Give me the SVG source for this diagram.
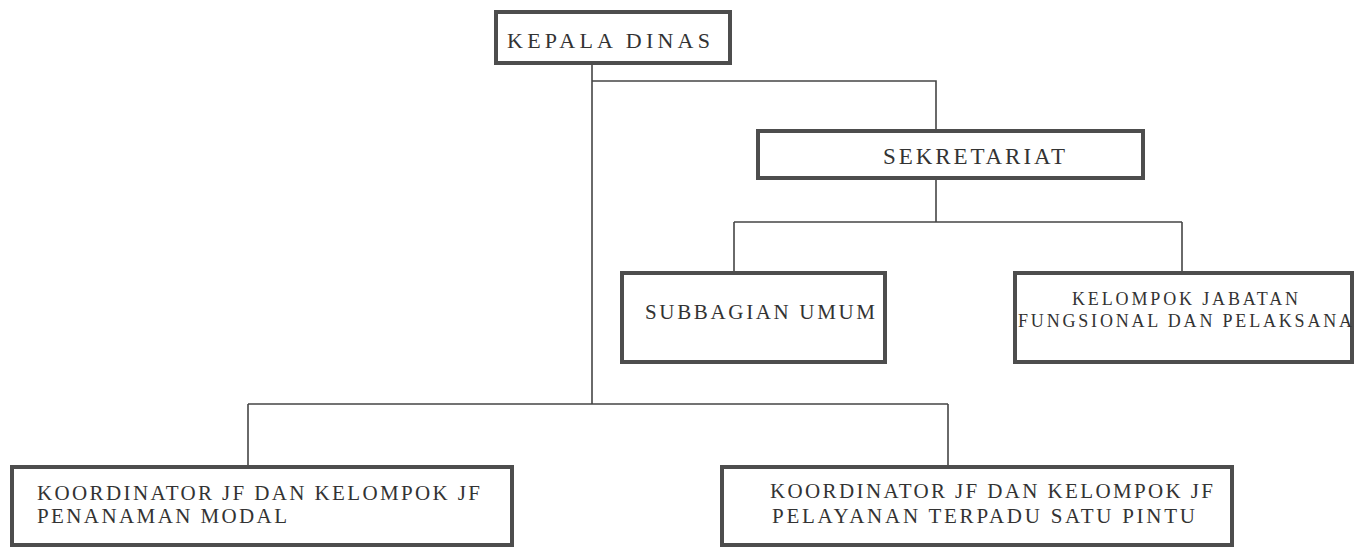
<svg xmlns="http://www.w3.org/2000/svg" width="1364" height="548" viewBox="0 0 1364 548">
<style>
.box{fill:#ffffff;stroke:#4d4d4d;stroke-width:4}
.t{font-family:"Liberation Serif","DejaVu Serif",serif;fill:#333333}
.c{fill:none;stroke:#454545;stroke-width:1.6}
</style>
<rect x="0" y="0" width="1364" height="548" fill="#ffffff"/>
<g id="connectors">
<path class="c" d="M592 63 V404"/>
<path class="c" d="M592 81 H936 V131"/>
<path class="c" d="M936 178 V222"/>
<path class="c" d="M734 222 H1182"/>
<path class="c" d="M734 222 V273"/>
<path class="c" d="M1182 222 V273"/>
<path class="c" d="M248 404 H948"/>
<path class="c" d="M248 404 V467"/>
<path class="c" d="M948 404 V467"/>
</g>
<g id="kepala-dinas">
<rect class="box" x="496" y="12" width="234" height="51"/>
<text class="t" x="507" y="48" font-size="22" textLength="203" lengthAdjust="spacing">KEPALA DINAS</text>
</g>
<g id="sekretariat">
<rect class="box" x="758" y="131" width="385" height="47"/>
<text class="t" x="883" y="164" font-size="23" textLength="182" lengthAdjust="spacing">SEKRETARIAT</text>
</g>
<g id="subbagian-umum">
<rect class="box" x="622" y="273" width="263" height="89"/>
<text class="t" x="645" y="319" font-size="21" textLength="230" lengthAdjust="spacing">SUBBAGIAN UMUM</text>
</g>
<g id="kelompok-jabatan">
<rect class="box" x="1015" y="273" width="337" height="89"/>
<text class="t" x="1072" y="305" font-size="18" textLength="226" lengthAdjust="spacing">KELOMPOK JABATAN</text>
<text class="t" x="1018" y="327" font-size="18" textLength="334" lengthAdjust="spacing">FUNGSIONAL DAN PELAKSANA</text>
</g>
<g id="koordinator-penanaman-modal">
<rect class="box" x="12" y="467" width="500" height="78"/>
<text class="t" x="37" y="500" font-size="21" textLength="443" lengthAdjust="spacing">KOORDINATOR JF DAN KELOMPOK JF</text>
<text class="t" x="37" y="523" font-size="21" textLength="250" lengthAdjust="spacing">PENANAMAN MODAL</text>
</g>
<g id="koordinator-ptsp">
<rect class="box" x="722" y="467" width="510" height="78"/>
<text class="t" x="770" y="498" font-size="21" textLength="443" lengthAdjust="spacing">KOORDINATOR JF DAN KELOMPOK JF</text>
<text class="t" x="772" y="523" font-size="21" textLength="423" lengthAdjust="spacing">PELAYANAN TERPADU SATU PINTU</text>
</g>
</svg>
